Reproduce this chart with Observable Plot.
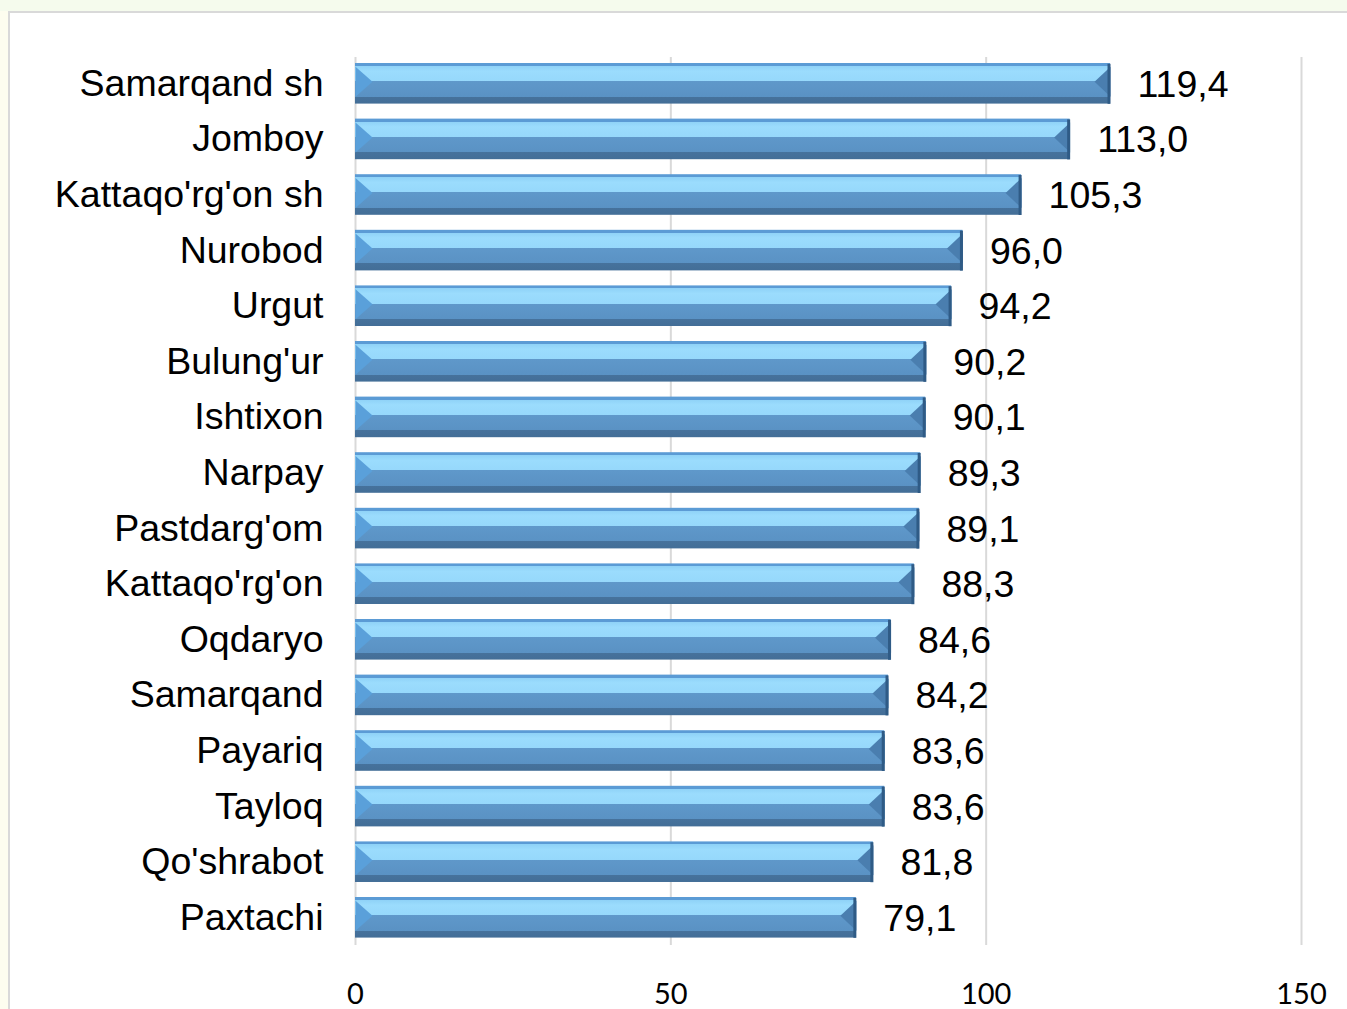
<!DOCTYPE html>
<html>
<head>
<meta charset="utf-8">
<script src="https://cdn.jsdelivr.net/npm/d3@7"></script>
<script src="https://cdn.jsdelivr.net/npm/@observablehq/plot@0.6"></script>
<style>
  html, body { margin: 0; padding: 0; }
  body { width: 1347px; height: 1009px; overflow: hidden; position: relative; background: #f5fbed; }
  #leftstrip { position: absolute; left: 0; top: 11px; width: 8px; bottom: 0; background: #fdfdef; }
  #panel { position: absolute; left: 8px; top: 11px; right: -10px; bottom: -10px; background: #ffffff;
           border-left: 2px solid #d9d9d9; border-top: 2px solid #d9d9d9; }
  #chart { position: absolute; left: 0; top: 0; }
</style>
</head>
<body>
<div id="leftstrip"></div>
<div id="panel"></div>
<div id="chart"></div>
<script>
const districts = ["Samarqand sh","Jomboy","Kattaqo'rg'on sh","Nurobod","Urgut","Bulung'ur","Ishtixon","Narpay","Pastdarg'om","Kattaqo'rg'on","Oqdaryo","Samarqand","Payariq","Tayloq","Qo'shrabot","Paxtachi"];
const values = [119.4,113.0,105.3,96.0,94.2,90.2,90.1,89.3,89.1,88.3,84.6,84.2,83.6,83.6,81.8,79.1];
const xTicks = [0,50,100,150];

const data = districts.map((name, i) => ({name, value: values[i]}));
const fmt = v => v.toFixed(1).replace(".", ",");

const leftBevel = {draw(ctx) { ctx.moveTo(0,-17); ctx.lineTo(17,-2); ctx.lineTo(0,13); ctx.closePath(); }};
const rightBevel = {draw(ctx) { ctx.moveTo(0,-17); ctx.lineTo(-16,-2); ctx.lineTo(0,13); ctx.closePath(); }};
const rightEdge = {draw(ctx) { ctx.moveTo(-3,-20); ctx.lineTo(0,-20); ctx.lineTo(0,20); ctx.lineTo(-3,20); ctx.closePath(); }};

const svg = Plot.plot({
  width: 1347,
  height: 1009,
  marginLeft: 355,
  marginRight: 46,
  marginTop: 57,
  marginBottom: 64,
  style: {background: "transparent", fontFamily: "'Liberation Sans', Arial, sans-serif", color: "#000"},
  x: {domain: [0, 150], axis: null},
  y: {domain: districts, range: [48, 952.6], padding: 0.27, round: false, axis: null},
  marks: [
    Plot.ruleX(xTicks, {stroke: "#d9d9d9", strokeWidth: 2}),
    Plot.barX(data, {x1: 0, x2: "value", y: "name", insetRight: -2, fill: "url(#barGrad)"}),
    Plot.dot(data, {x: 0, y: "name", r: 1, symbol: leftBevel, fill: "#5aa0da", stroke: "none"}),
    Plot.dot(data, {x: "value", y: "name", r: 1, dx: 2, symbol: rightBevel, fill: "#4a7eaf", stroke: "none"}),
    Plot.dot(data, {x: "value", y: "name", r: 1, dx: 2, symbol: rightEdge, fill: "#2f5b86", stroke: "none"}),
    Plot.text(data, {x: "value", y: "name", text: d => fmt(d.value), textAnchor: "start", dx: 29, dy: 1, fontSize: 37.5, fill: "#000"}),
    Plot.axisY({tickSize: 0, tickPadding: 32, fontSize: 37.5, fill: "#000", label: null}),
    Plot.axisX(xTicks, {tickSize: 0, tickPadding: 38, fontSize: 29, fontFamily: "Lato, 'Open Sans', sans-serif", fill: "#000", label: null})
  ]
});

const ns = "http://www.w3.org/2000/svg";
const defs = document.createElementNS(ns, "defs");
const grad = document.createElementNS(ns, "linearGradient");
grad.setAttribute("id", "barGrad");
grad.setAttribute("x1", "0"); grad.setAttribute("y1", "0");
grad.setAttribute("x2", "0"); grad.setAttribute("y2", "1");
const stops = [
  [0, "#5b9bd5"], [0.075, "#5b9bd5"],
  [0.075, "#8fd2f7"], [0.2, "#9bdcfd"], [0.45, "#96d8fb"],
  [0.45, "#5f98ca"], [0.83, "#5a92c4"],
  [0.83, "#46729c"], [1, "#436e97"]
];
for (const [o, c] of stops) {
  const s = document.createElementNS(ns, "stop");
  s.setAttribute("offset", o);
  s.setAttribute("stop-color", c);
  grad.appendChild(s);
}
defs.appendChild(grad);
svg.insertBefore(defs, svg.firstChild);

document.getElementById("chart").appendChild(svg);
</script>
</body>
</html>
